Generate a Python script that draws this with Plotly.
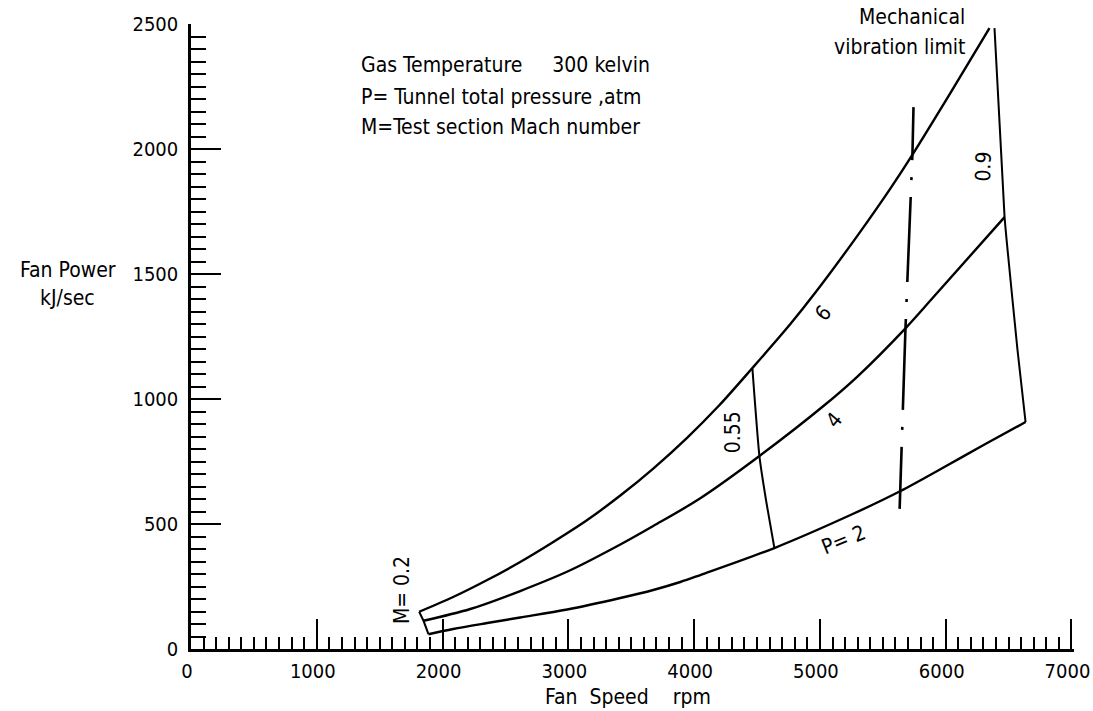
import plotly.graph_objects as go

# ---- data ----
p6_rpm = [1814, 2084, 2355, 2617, 2880, 3150, 3413, 3675, 3946, 4200, 4463, 4765, 4964, 5296, 5561, 5736, 6038, 6348]
p6_kj = [149, 208, 276, 348, 428, 516, 614, 722, 846, 975, 1124, 1300, 1426, 1652, 1843, 1978, 2225, 2484]

p4_rpm = [1848, 2220, 2617, 3015, 3413, 3675, 4049, 4519, 5028, 5298, 5680, 5903, 6468]
p4_kj = [113, 160, 232, 315, 418, 492, 603, 772, 972, 1090, 1283, 1408, 1728]

p2_rpm = [1888, 2084, 2355, 2617, 2991, 3413, 3675, 3890, 4049, 4638, 5243, 5641, 5982, 6301, 6635]
p2_kj = [59, 80, 104, 126, 158, 204, 236, 268, 296, 404, 536, 632, 726, 816, 908]

m02_rpm = [1814, 1848, 1888]
m02_kj = [149, 113, 59]
m055_rpm = [4463, 4519, 4574, 4638]
m055_kj = [1124, 772, 588, 404]
m09_rpm = [6388, 6468, 6492, 6571, 6635]
m09_kj = [2484, 1728, 1596, 1196, 908]

vib_rpm = [5744, 5736, 5680, 5641, 5633]
vib_kj = [2168, 1988, 1280, 632, 548]

x_major, x_minor, x_max = 1000, 100, 7000
y_major, y_minor, y_max = 500, 50, 2500

FONT = "Liberation Sans Narrow, DejaVu Sans Condensed, sans-serif"
NB = "\u00a0"

W, H = 1093, 711
L, T, B = 191, 24, 62
X_END_PAD = 20  # rpm of axis beyond last tick so the end tick is drawn
PW0 = 880.0     # pixel width for 0..7000
R = W - L - PW0 * (x_max + X_END_PAD) / x_max

fig = go.Figure()
for xs, ys in [(p6_rpm, p6_kj), (p4_rpm, p4_kj), (p2_rpm, p2_kj)]:
    fig.add_trace(go.Scatter(x=xs, y=ys, mode="lines",
                             line=dict(color="black", width=2.4, shape="spline", smoothing=0.9),
                             hoverinfo="skip"))
for xs, ys in [(m02_rpm, m02_kj), (m055_rpm, m055_kj), (m09_rpm, m09_kj)]:
    fig.add_trace(go.Scatter(x=xs, y=ys, mode="lines",
                             line=dict(color="black", width=2.0, shape="spline", smoothing=0.5),
                             hoverinfo="skip"))
fig.add_trace(go.Scatter(x=vib_rpm, y=vib_kj, mode="lines",
                         line=dict(color="black", width=2.6,
                                   dash="53px,17px,3px,17px,85px,17px,3px,17px,91px,17px,3px,17px,62px"),
                         hoverinfo="skip"))


def px(xp, yp):
    return (xp - L) / (W - L - R), (H - B - yp) / (H - T - B)


def note(text, xp, yp, size=21, angle=0, xanchor="center"):
    x, y = px(xp, yp)
    fig.add_annotation(x=x, y=y, xref="paper", yref="paper", text=text, showarrow=False,
                       textangle=angle, xanchor=xanchor, yanchor="middle",
                       font=dict(family=FONT, size=size, color="black"))


note("Gas Temperature" + NB * 5 + "300 kelvin", 359, 65, xanchor="left")
note("P= Tunnel total pressure ,atm", 359, 97, xanchor="left")
note("M=Test section Mach number", 359, 127, xanchor="left")
note("Mechanical", 912, 17)
note("vibration limit", 900, 47)
note("Fan Power", 68, 270)
note("kJ/sec", 68, 298)
note("Fan" + NB * 2 + "Speed" + NB * 4 + "rpm", 628, 697)
note("6", 823, 313, angle=-50)
note("4", 834, 420, angle=-50)
note("P= 2", 843, 540, angle=-22)
note("0.55", 733, 432, angle=-90)
note("0.9", 983, 166, angle=-88)
note("M= 0.2", 402, 590, angle=-90)

fig.update_layout(
    width=W, height=H,
    margin=dict(l=L, r=R, t=T, b=B, pad=0, autoexpand=False),
    paper_bgcolor="white", plot_bgcolor="white",
    showlegend=False,
    font=dict(family=FONT, size=21, color="black"),
    xaxis=dict(range=[0, x_max + X_END_PAD], tickmode="linear", tick0=0, dtick=x_major,
               ticks="inside", ticklen=30, tickwidth=2, tickcolor="black",
               showline=True, linecolor="black", linewidth=2.5, automargin=False,
               showgrid=False, zeroline=False, ticklabelstandoff=2, ticklabelshift=-4,
               ticklabeloverflow="allow",
               tickfont=dict(family=FONT, size=20, color="black"),
               minor=dict(dtick=x_minor, tick0=0, ticks="inside", ticklen=12, tickwidth=1.6,
                          tickcolor="black", showgrid=False)),
    yaxis=dict(range=[0, y_max * 1.0002], tickmode="linear", tick0=0, dtick=y_major,
               ticks="inside", ticklen=30, tickwidth=2, tickcolor="black",
               showline=True, linecolor="black", linewidth=2.5, automargin=False,
               showgrid=False, zeroline=False, ticklabelstandoff=6,
               tickfont=dict(family=FONT, size=20, color="black"),
               minor=dict(dtick=y_minor, tick0=0, ticks="inside", ticklen=15, tickwidth=1.6,
                          tickcolor="black", showgrid=False)),
)

fig.write_html("out.html")
